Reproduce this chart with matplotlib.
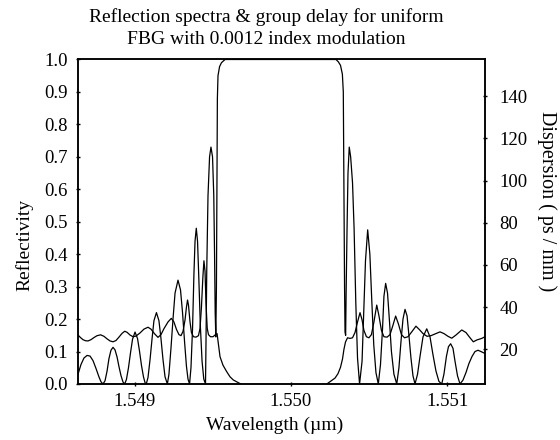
import matplotlib
matplotlib.use("Agg")
import matplotlib.pyplot as plt
import numpy as np

plt.rcParams["font.family"] = ["Liberation Serif", "DejaVu Serif"]

refl_pts = [
    (1548.637, 0.030), (1548.656, 0.060), (1548.675, 0.080), (1548.695, 0.088), (1548.714, 0.086),
    (1548.733, 0.072), (1548.752, 0.048), (1548.771, 0.022), (1548.784, 0.007), (1548.797, 0.000),
    (1548.810, 0.010), (1548.823, 0.040), (1548.835, 0.078), (1548.848, 0.104), (1548.861, 0.113),
    (1548.874, 0.105), (1548.887, 0.083), (1548.899, 0.054), (1548.912, 0.026), (1548.925, 0.006),
    (1548.936, 0.000), (1548.947, 0.014), (1548.960, 0.050), (1548.973, 0.096), (1548.986, 0.138),
    (1549.002, 0.160), (1549.018, 0.140), (1549.031, 0.100), (1549.043, 0.058), (1549.056, 0.022),
    (1549.066, 0.004), (1549.074, 0.000), (1549.085, 0.020), (1549.098, 0.075), (1549.111, 0.140),
    (1549.123, 0.195), (1549.139, 0.220), (1549.155, 0.195), (1549.168, 0.140), (1549.181, 0.075),
    (1549.194, 0.022), (1549.209, 0.000), (1549.219, 0.030), (1549.232, 0.110), (1549.245, 0.200),
    (1549.258, 0.280), (1549.277, 0.320), (1549.293, 0.290), (1549.306, 0.220), (1549.319, 0.130),
    (1549.331, 0.055), (1549.341, 0.015), (1549.351, 0.000), (1549.360, 0.050), (1549.370, 0.170),
    (1549.379, 0.340), (1549.386, 0.440), (1549.394, 0.480), (1549.402, 0.440), (1549.410, 0.330),
    (1549.420, 0.180), (1549.431, 0.070), (1549.442, 0.015), (1549.453, 0.000), (1549.456, 0.120),
    (1549.461, 0.350), (1549.469, 0.580), (1549.479, 0.700), (1549.488, 0.730), (1549.498, 0.700),
    (1549.506, 0.580), (1549.511, 0.400), (1549.515, 0.220), (1549.519, 0.145), (1549.523, 0.300),
    (1549.526, 0.600), (1549.529, 0.880), (1549.533, 0.950), (1549.543, 0.978), (1549.555, 0.990),
    (1549.578, 1.000),
    (1550.288, 1.000), (1550.303, 0.993), (1550.317, 0.982), (1550.329, 0.955), (1550.335, 0.900),
    (1550.339, 0.600), (1550.343, 0.300), (1550.346, 0.160), (1550.350, 0.150), (1550.353, 0.280),
    (1550.359, 0.480), (1550.365, 0.650), (1550.373, 0.730), (1550.382, 0.700), (1550.394, 0.620),
    (1550.404, 0.480), (1550.415, 0.250), (1550.426, 0.080), (1550.439, 0.000), (1550.455, 0.070),
    (1550.464, 0.200), (1550.477, 0.380), (1550.491, 0.475), (1550.505, 0.400), (1550.517, 0.260),
    (1550.530, 0.120), (1550.544, 0.035), (1550.559, 0.000), (1550.573, 0.060), (1550.586, 0.170),
    (1550.595, 0.270), (1550.606, 0.310), (1550.618, 0.280), (1550.631, 0.190), (1550.643, 0.100),
    (1550.659, 0.030), (1550.677, 0.000), (1550.691, 0.050), (1550.704, 0.130), (1550.717, 0.200),
    (1550.730, 0.230), (1550.743, 0.210), (1550.755, 0.150), (1550.768, 0.080), (1550.781, 0.025),
    (1550.794, 0.000), (1550.810, 0.030), (1550.826, 0.085), (1550.845, 0.145), (1550.869, 0.170),
    (1550.890, 0.145), (1550.909, 0.090), (1550.928, 0.040), (1550.947, 0.008), (1550.965, 0.000),
    (1550.979, 0.030), (1550.995, 0.085), (1551.008, 0.115), (1551.022, 0.124), (1551.037, 0.110),
    (1551.050, 0.070), (1551.066, 0.025), (1551.082, 0.000), (1551.101, 0.012), (1551.120, 0.035),
    (1551.139, 0.063), (1551.159, 0.085), (1551.178, 0.100), (1551.197, 0.104), (1551.216, 0.100),
    (1551.242, 0.094),
]

disp_pts = [
    (1548.637, 26.8), (1548.653, 25.6), (1548.669, 24.6), (1548.685, 24.1), (1548.701, 24.0),
    (1548.720, 24.6), (1548.739, 25.6), (1548.759, 26.5), (1548.782, 26.9), (1548.803, 26.2),
    (1548.823, 25.0), (1548.842, 24.0), (1548.861, 23.6), (1548.880, 24.2), (1548.899, 25.8),
    (1548.919, 27.6), (1548.936, 28.6), (1548.951, 28.1), (1548.970, 26.8), (1548.989, 26.0),
    (1549.008, 26.3), (1549.034, 27.8), (1549.059, 29.6), (1549.085, 30.5), (1549.104, 29.6),
    (1549.127, 27.4), (1549.149, 25.7), (1549.168, 27.0), (1549.187, 29.8), (1549.213, 33.0),
    (1549.234, 34.7), (1549.251, 33.0), (1549.267, 29.5), (1549.283, 27.0), (1549.296, 26.5),
    (1549.309, 28.5), (1549.322, 34.0), (1549.331, 40.0), (1549.338, 43.4), (1549.344, 41.0),
    (1549.354, 33.0), (1549.363, 28.0), (1549.376, 26.0), (1549.392, 25.8), (1549.408, 26.5),
    (1549.418, 30.0), (1549.427, 40.0), (1549.436, 54.0), (1549.443, 62.0), (1549.450, 57.0),
    (1549.456, 42.0), (1549.464, 30.0), (1549.472, 27.0), (1549.485, 26.0), (1549.501, 26.0),
    (1549.517, 27.0), (1549.527, 27.5), (1549.533, 24.0), (1549.546, 16.5), (1549.565, 12.5),
    (1549.589, 9.4), (1549.610, 7.0), (1549.631, 5.5), (1549.661, 4.3), (1549.695, 3.0),
    (1550.218, 3.0), (1550.250, 4.7), (1550.282, 6.4), (1550.301, 8.5), (1550.317, 11.5),
    (1550.330, 15.5), (1550.339, 20.0), (1550.349, 23.5), (1550.362, 25.5), (1550.378, 25.2),
    (1550.394, 25.5), (1550.410, 28.0), (1550.426, 33.0), (1550.442, 37.4), (1550.455, 34.0),
    (1550.467, 29.0), (1550.483, 26.0), (1550.499, 25.5), (1550.515, 27.0), (1550.531, 33.0),
    (1550.549, 41.0), (1550.563, 36.0), (1550.579, 29.0), (1550.595, 26.0), (1550.615, 25.8),
    (1550.634, 27.0), (1550.653, 31.5), (1550.670, 35.8), (1550.688, 32.0), (1550.707, 27.0),
    (1550.727, 25.5), (1550.749, 26.0), (1550.775, 28.5), (1550.800, 31.0), (1550.823, 29.3),
    (1550.845, 27.5), (1550.871, 26.2), (1550.896, 26.5), (1550.928, 27.5), (1550.954, 28.3),
    (1550.979, 27.5), (1551.005, 26.2), (1551.029, 25.3), (1551.056, 26.8), (1551.093, 29.2),
    (1551.120, 28.0), (1551.146, 25.5), (1551.167, 23.6), (1551.191, 24.5), (1551.221, 25.2),
    (1551.242, 26.0),
]

wl_ticks = [1.549, 1.550, 1.551]
refl_ticks = [0.0, 0.1, 0.2, 0.3, 0.4, 0.5, 0.6, 0.7, 0.8, 0.9, 1.0]
disp_ticks = [20, 40, 60, 80, 100, 120, 140]

refl_wl, refl = zip(*refl_pts)
disp_wl, disp = zip(*disp_pts)

fig = plt.figure(figsize=(5.6, 4.4), dpi=100)
ax = fig.add_axes([0.1393, 0.1273, 0.7268, 0.7375])
ax2 = ax.twinx()

ax.plot(np.array(refl_wl) / 1000.0, refl, color="black", linewidth=0.9)
ax2.plot(np.array(disp_wl) / 1000.0, disp, color="black", linewidth=0.9)

ax.set_xlim(1.548637, 1.551242)
ax.set_ylim(0.0, 1.0)
ax2.set_ylim(3.6, 157.4)

ax.set_xticks(wl_ticks)
ax.set_xticklabels(["%.3f" % w for w in wl_ticks])
ax.set_yticks(refl_ticks)
ax.set_yticklabels(["%.1f" % r for r in refl_ticks])
ax2.set_yticks(disp_ticks)

for a in (ax, ax2):
    a.tick_params(direction="inout", length=3, width=1.0, labelsize=13.5)
    for s in a.spines.values():
        s.set_linewidth(1.1)
ax.tick_params(axis="y", pad=6)
ax.tick_params(axis="x", pad=5)
ax2.tick_params(axis="y", pad=9)

ax.set_xlabel("Wavelength (\u00b5m)", fontsize=14)
ax.xaxis.set_label_coords(0.483, -0.1)
ax.set_ylabel("Reflectivity", fontsize=14)
ax.yaxis.set_label_coords(-0.11, 0.43)
ax2.set_ylabel("Dispersion ( ps / mm )", fontsize=14.5, rotation=270)
ax2.yaxis.set_label_coords(1.175, 0.565)
ax.set_title("Reflection spectra & group delay for uniform\nFBG with 0.0012 index modulation",
             fontsize=14, linespacing=1.4, pad=11, x=0.462)

fig.savefig("out.png", dpi=100)
